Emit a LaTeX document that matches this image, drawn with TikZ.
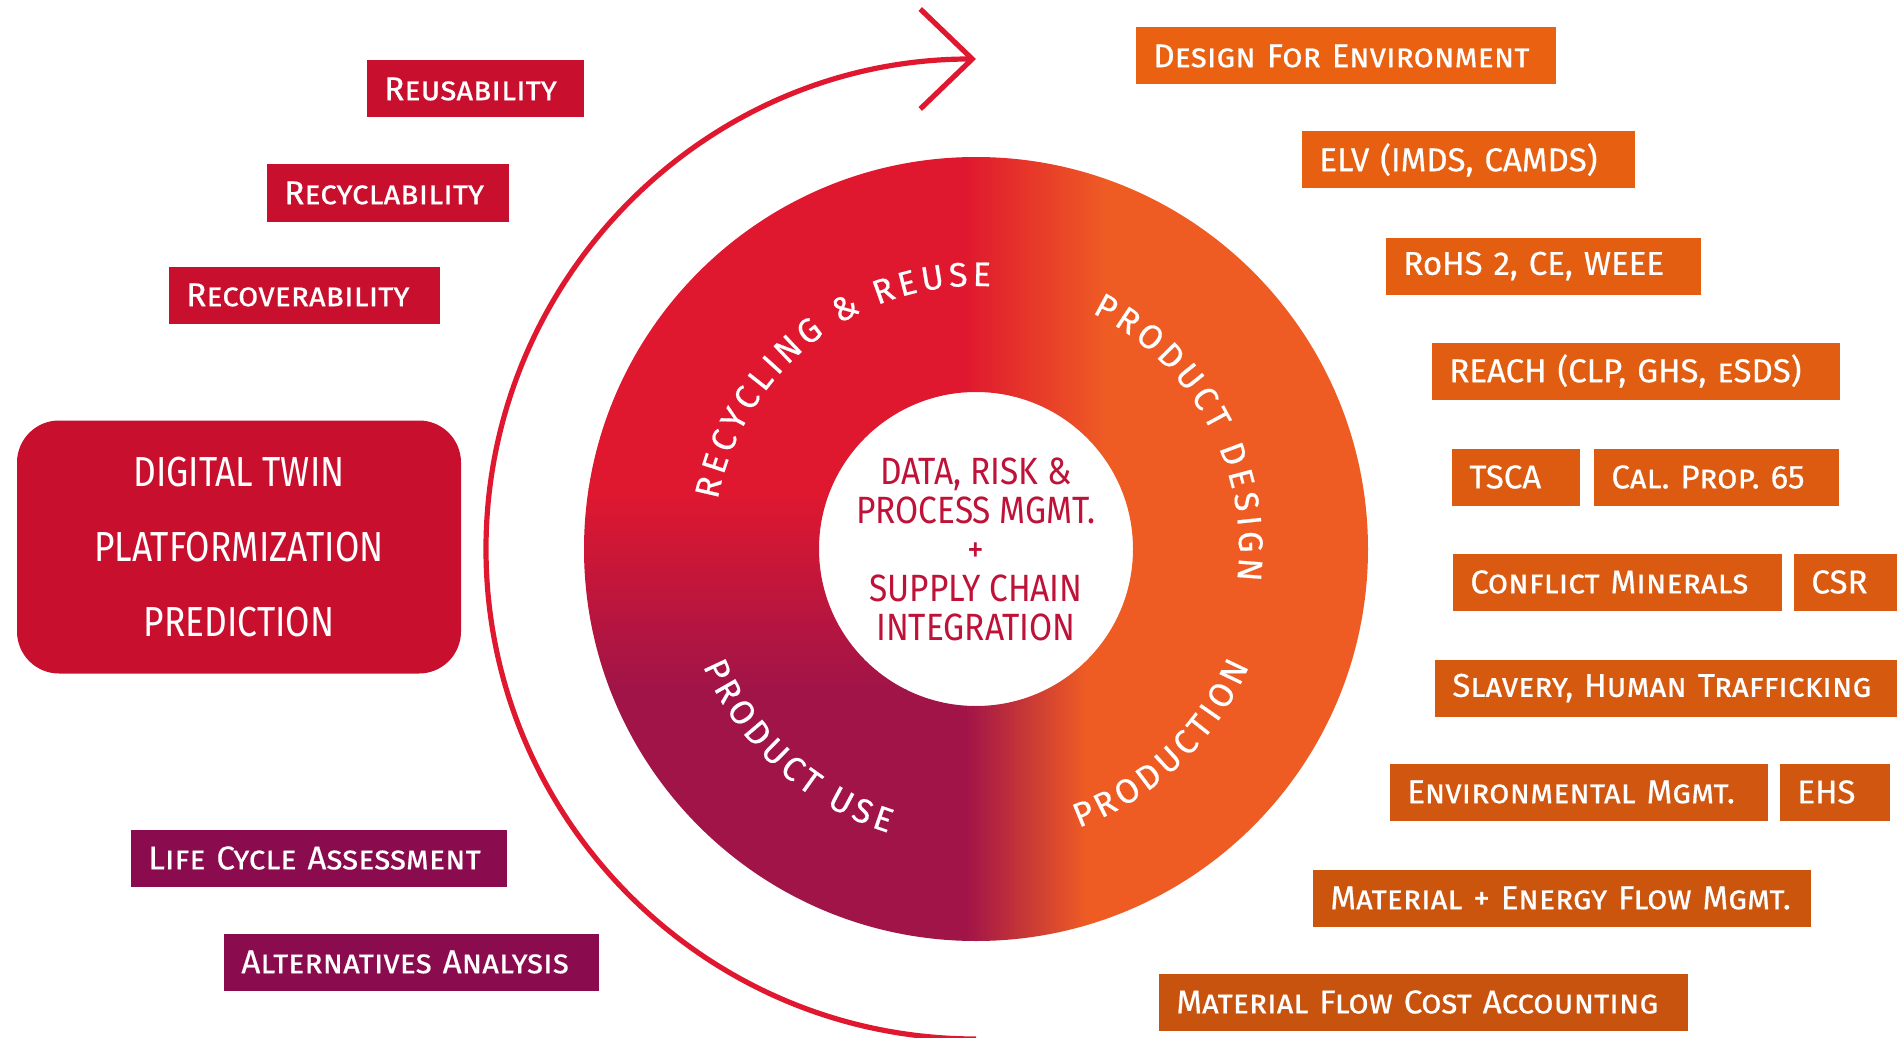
\documentclass[tikz,border=0pt]{standalone}
\usepackage{fontspec}
\setmainfont{Fira Sans}
\newfontfamily\condfont{Fira Sans}[FakeStretch=0.84]
\newfontfamily\hubfont{Fira Sans}[FakeStretch=0.88]
\newfontfamily\tagfont{Fira Sans}[FakeBold=0.5]
\usepackage{xcolor}
\usepackage{tikz}
\usetikzlibrary{arrows.meta,decorations.text}
\definecolor{ringred}{HTML}{E0182F}
\definecolor{ringpurple}{HTML}{A11448}
\definecolor{ringorange}{HTML}{EE5C24}
\definecolor{crimson}{HTML}{C8102E}
\definecolor{plum}{HTML}{8A0C4E}
\definecolor{otop}{HTML}{EA6112}
\definecolor{obot}{HTML}{C8530E}
\definecolor{hubtext}{HTML}{BE1238}
\frenchspacing
\tikzset{
  tag/.style={fill=#1, text=white, anchor=west, minimum height=28.5pt, inner xsep=8.5pt, inner ysep=0pt, align=left, font=\tagfont\fontsize{16.5}{18}\selectfont},
  redtag/.style={tag=crimson},
  plumtag/.style={tag=plum},
  otag/.style={tag=obot!#1!otop},
  ringlab/.style={decorate, decoration={text effects along path, text={#1}, text align=center,
    text effects/.cd, text along path,
    characters={text=white, inner sep=0pt, font=\tagfont\fontsize{17}{17}\selectfont},
    character widths={font=\tagfont\fontsize{17}{17}\selectfont, inner xsep=1.1pt}}},
  loop/.style={draw=ringred, line width=2.6pt, -{Straight Barb[length=26pt,width=50pt]}},
}
\begin{document}
\begin{tikzpicture}[x=0.5pt,y=0.5pt]
  \useasboundingbox (0,0) rectangle (1897,-1038);
  \coordinate (O) at (976,-549);
  \coordinate (loopend) at (976,-1039);

  % ring
  \begin{scope}[shift={(O)}, even odd rule]
    \clip (0,0) circle (392) (0,0) circle (157);
    \fill[ringred] (-400,60) rectangle (-10,400);
    \shade[top color=ringred, bottom color=ringpurple] (-400,-140) rectangle (-10,60.5);
    \fill[ringpurple] (-400,-400) rectangle (-10,-139.5);
    \shade[left color=ringred, right color=ringorange] (-10.5,0) rectangle (130,400);
    \shade[left color=ringpurple, right color=ringorange] (-10.5,-400) rectangle (110,0.5);
    \fill[ringorange] (109.5,-400) rectangle (400,0);
    \fill[ringorange] (129.5,0) rectangle (400,400);
  \end{scope}
  \path[shift={(O)}, ringlab={RECYCLING \& REUSE}] (175:263) arc[start angle=175, end angle=81, radius=263];
  \path[shift={(O)}, ringlab={PRODUCT DESIGN}] (73:263) arc[start angle=73, end angle=-16, radius=263];
  \path[shift={(O)}, ringlab={PRODUCTION}] (-88:297) arc[start angle=-88, end angle=-5, radius=297];
  \path[shift={(O)}, ringlab={PRODUCT USE}] (186:297) arc[start angle=186, end angle=270, radius=297];
  \node[text=hubtext, align=center, font=\hubfont\fontsize{19}{19.5}\selectfont] (hub) at (O)
    {DATA, RISK \&\\PROCESS MGMT.\\+\\SUPPLY CHAIN\\INTEGRATION};

  % loop arrow
  \draw[loop] (loopend) arc[start angle=-90, end angle=-270, radius=490];

  % left side
  \node[redtag, text width=91.5pt] (reuse) at (367,-89) {\scshape Reusability};
  \node[redtag, text width=104pt] (recycle) at (267,-193) {\scshape Recyclability};
  \node[redtag, text width=118.5pt] (recover) at (169,-295) {\scshape Recoverability};
  \node[fill=crimson, rounded corners=21pt, minimum width=222pt, minimum height=126.5pt, text=white,
    align=center, font=\condfont\fontsize{21}{37.5}\selectfont] (twin) at (239,-547)
    {DIGITAL TWIN\\PLATFORMIZATION\\PREDICTION};
  \node[plumtag, text width=171pt] (lca) at (131,-858) {\scshape Life Cycle Assessment};
  \node[plumtag, text width=170.5pt] (alt) at (224,-962) {\scshape Alternatives Analysis};

  % right side
  \node[otag=0, text width=193pt] (dfe) at (1136,-56) {\scshape Design For Environment};
  \node[otag=10, text width=149.5pt] (elv) at (1302,-160) {ELV (IMDS, CAMDS)};
  \node[otag=20, text width=140.5pt] (rohs) at (1386,-266) {RoHS 2, CE, WEEE};
  \node[otag=30, text width=187pt] (reach) at (1432,-371) {REACH (CLP, GHS, \textsc{e}SDS)};
  \node[otag=40, text width=47pt] (tsca) at (1452,-477) {TSCA};
  \node[otag=40, text width=105.5pt] (prop) at (1594,-477) {\scshape Cal. Prop. 65};
  \node[otag=50, text width=147.5pt] (conflict) at (1453,-582) {\scshape Conflict Minerals};
  \node[otag=50, text width=40pt] (csr) at (1794,-582) {CSR};
  \node[otag=60, text width=216pt] (slavery) at (1435,-688) {\scshape Slavery, Human Trafficking};
  \node[otag=75, text width=172pt] (envm) at (1390,-792) {\scshape Environmental Mgmt.};
  \node[otag=75, text width=38pt] (ehs) at (1780,-792) {EHS};
  \node[otag=88, text width=232pt] (mefm) at (1313,-898) {\scshape Material + Energy Flow Mgmt.};
  \node[otag=100, text width=247.5pt] (mfca) at (1159,-1002) {\scshape Material Flow Cost Accounting};
\end{tikzpicture}
\end{document}
